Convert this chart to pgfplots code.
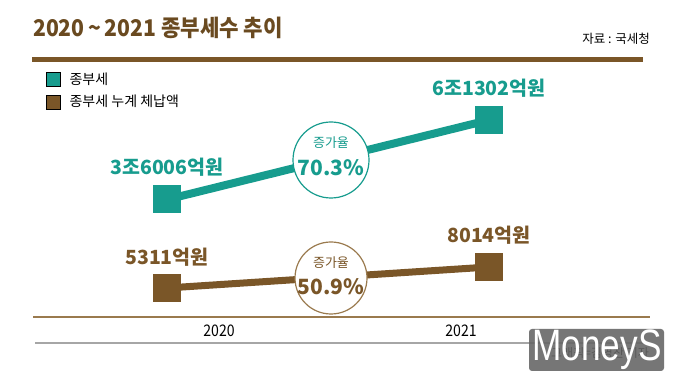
\documentclass[border=0pt]{standalone}
\usepackage{pgfplots}
\pgfplotsset{compat=1.18}
\usepackage{fontspec}
\setmainfont{Noto Sans CJK KR}
\newfontfamily\lib{Liberation Sans}
\definecolor{tl}{HTML}{179C8E}
\definecolor{br}{HTML}{7A5628}
\definecolor{brd}{HTML}{6A4A20}
\definecolor{brl}{HTML}{9A7A4E}
\definecolor{wm}{HTML}{646464}
\newcommand\fs[1]{\fontsize{#1pt}{#1pt}\selectfont}
\begin{document}
\begin{tikzpicture}[x=1pt,y=1pt]
\useasboundingbox (0,0) rectangle (680,387);
\fill[white] (0,0) rectangle (680,387);
% title and source
\node[anchor=base west, inner sep=0, text=brd, font=\fs{23}\bfseries] at (33,350) {\scalebox{0.92}[1]{2020\,\textasciitilde\,2021 종부세수 추이}};
\node[anchor=base east, inner sep=0, font=\fs{12.5}] at (650,343) {자료 : 국세청};
\fill[br] (32,325) rectangle (643,330);

% canvas axis for the legend
\begin{axis}[at={(0,0)}, anchor=south west, scale only axis, width=680pt, height=387pt,
  xmin=0, xmax=680, ymin=0, ymax=387, hide axis,
  legend image code/.code={\fill[#1] (0pt,-7pt) rectangle (14pt,7pt); \path (23pt,0pt);},
  legend style={draw=none, fill=none, at={(46/680,315/387)}, anchor=north west,
    inner sep=0pt, row sep=8pt, font=\fs{14}, nodes={inner sep=0pt}},
  legend cell align=left]
\addlegendimage{fill=tl}
\addlegendentry{종부세}
\addlegendimage{fill=br}
\addlegendentry{종부세 누계 체납액}
\end{axis}

% 종부세 (조원)
\begin{axis}[at={(167pt,187.5pt)}, anchor=south west, scale only axis, width=322pt, height=79.5pt,
  xmin=0, xmax=1, ymin=3.6006, ymax=6.1302, hide axis, clip=false]
\addplot[color=tl, line width=8pt, mark=square*, mark size=13.5pt, mark options={line width=0pt}]
  coordinates {(0,3.6006) (1,6.1302)};
\node[text=tl, font=\fs{19.5}\bfseries, yshift=32pt] at (axis cs:0,3.6006) {3조6006억원};
\node[text=tl, font=\fs{19.5}\bfseries, yshift=32pt] at (axis cs:1,6.1302) {6조1302억원};
\end{axis}

% 종부세 누계 체납액 (조원)
\begin{axis}[at={(167pt,99pt)}, anchor=south west, scale only axis, width=322pt, height=21pt,
  xmin=0, xmax=1, ymin=0.5311, ymax=0.8014, hide axis, clip=false]
\addplot[color=br, line width=7pt, mark=square*, mark size=13.5pt, mark options={line width=0pt}]
  coordinates {(0,0.5311) (1,0.8014)};
\node[text=br, font=\fs{19.5}\bfseries, yshift=31pt] at (axis cs:0,0.5311) {5311억원};
\node[text=br, font=\fs{19.5}\bfseries, yshift=32pt] at (axis cs:1,0.8014) {8014억원};
\end{axis}

% growth circles
\draw[tl, line width=1.2pt, fill=white] (331,227) circle (38);
\node[text=tl, font=\fs{13}] at (331,244) {증가율};
\node[text=tl, font=\fs{21}\bfseries] at (331,219) {70.3\%};
\draw[brl, line width=1.2pt, fill=white] (331,109) circle (36);
\node[text=br, font=\fs{13}] at (331,124) {증가율};
\node[text=br, font=\fs{21}\bfseries] at (331,100) {50.9\%};

% bottom axis
\draw[brl, line width=2.5pt] (33,70) -- (650,70);
\node[font=\fs{16}] at (219,56) {\scalebox{0.88}[1]{2020}};
\node[font=\fs{16}] at (461,56) {\scalebox{0.88}[1]{2021}};
\draw[black!35, line width=2pt] (35,44) -- (645,44);

% watermark
\node[font=\fs{12}] at (600,34) {그래픽=김영찬 기자};
\fill[wm, opacity=0.88, rounded corners=3pt] (529,16) rectangle (664,58);
\node[text=white, font=\lib\fs{44}] at (597,37) {\scalebox{0.8}[1]{MoneyS}};
\end{tikzpicture}
\end{document}
